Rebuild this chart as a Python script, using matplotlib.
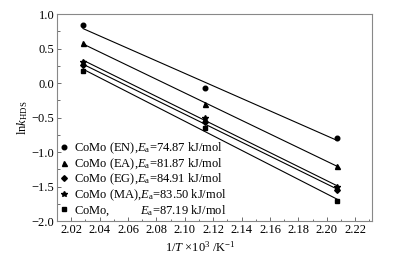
import numpy as np
import matplotlib
matplotlib.use("Agg")
import matplotlib.pyplot as plt

plt.rcParams['font.family'] = ['Liberation Serif', 'DejaVu Serif']
plt.rcParams['mathtext.fontset'] = 'custom'
plt.rcParams['mathtext.rm'] = 'Liberation Serif'
plt.rcParams['mathtext.it'] = 'Liberation Serif:italic'

x_inv_T = [2.0284, 2.1142, 2.2075]
ln_k = {
    'EN': [0.836, -0.077, -0.79],
    'EA': [0.575, -0.30, -1.20],
    'EG': [0.26, -0.57, -1.55],
    'MA': [0.31, -0.50, -1.51],
    'base': [0.174, -0.65, -1.71],
}
labels = {
    'EN': 'CoMo (EN),$E_{\\rm a}$=74.87 kJ/mol',
    'EA': 'CoMo (EA),$E_{\\rm a}$=81.87 kJ/mol',
    'EG': 'CoMo (EG),$E_{\\rm a}$=84.91 kJ/mol',
    'MA': 'CoMo (MA),$E_{\\rm a}$=83.50 kJ/mol',
    'base': 'CoMo,' + ' ' * 10 + '$E_{\\rm a}$=87.19 kJ/mol',
}
markers = {'EN': 'o', 'EA': '^', 'EG': 'D', 'MA': '*', 'base': 's'}
msizes = {'EN': 3.3, 'EA': 3.6, 'EG': 2.9, 'MA': 4.4, 'base': 3.0}
order = ['EN', 'EA', 'EG', 'MA', 'base']

fig = plt.figure(figsize=(3.93, 2.61), dpi=100)
ax = fig.add_axes([0.145, 0.153, 0.802, 0.793])

x = np.array(x_inv_T)
for key in order:
    y = np.array(ln_k[key])
    p = np.polyfit(x, y, 1)
    ax.plot(x, np.polyval(p, x), color='black', lw=0.8)
    ax.plot(x, y, linestyle='none', marker=markers[key], ms=msizes[key],
            color='black', label=labels[key])

ax.set_xlim(2.01, 2.232)
ax.set_ylim(-2.0, 1.0)
ax.set_xticks(np.arange(2.02, 2.221, 0.02))
ax.set_xticks(np.arange(2.01, 2.231, 0.01), minor=True)
ax.set_yticks(np.arange(-2.0, 1.01, 0.5))
ax.set_yticks(np.arange(-2.0, 1.01, 0.25), minor=True)
ax.set_xticklabels([f'{v:.2f}' for v in np.arange(2.02, 2.221, 0.02)])
ax.set_yticklabels([f'{v:.1f}'.replace('-', '\u2212') for v in np.arange(-2.0, 1.01, 0.5)])
ax.tick_params(which='both', direction='in', top=False, right=False,
               labelsize=9, color='#555555', pad=2)
ax.tick_params(which='major', length=3, width=0.6)
ax.tick_params(which='minor', length=1.8, width=0.6)
for s in ax.spines.values():
    s.set_color('#888888')
    s.set_linewidth(0.8)

ax.set_xlabel('1/$T$ \u00d710$^3$ /K$^{-1}$', fontsize=9)
ax.xaxis.set_label_coords(0.455, -0.09)
ax.set_ylabel('ln$k$$_{\\rm HDS}$', fontsize=9, labelpad=1)

ax.legend(loc='lower left', bbox_to_anchor=(0.0, 0.0), frameon=False,
          fontsize=9, handlelength=0.6, handletextpad=0.5,
          labelspacing=0.02, borderpad=0.15, borderaxespad=0.1)

fig.savefig('out.png', dpi=100)
